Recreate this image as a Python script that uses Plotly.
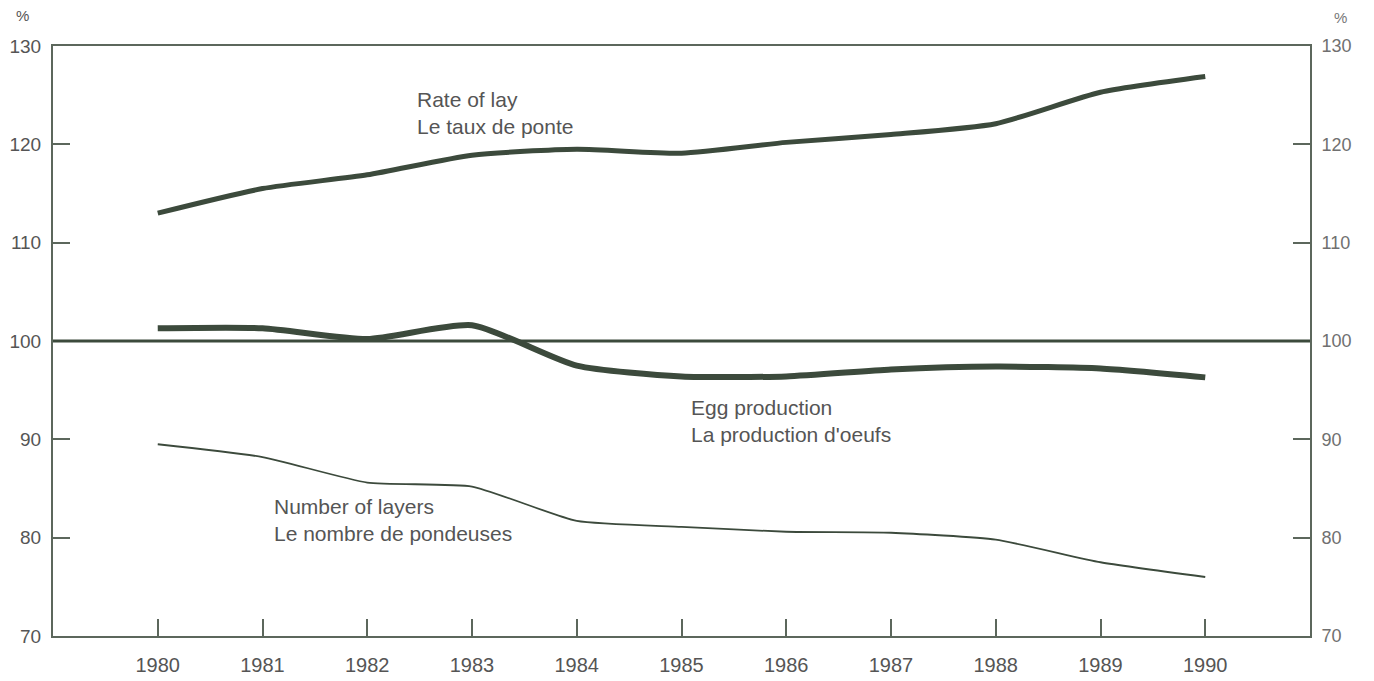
import plotly.graph_objects as go

years = [1980, 1981, 1982, 1983, 1984, 1985, 1986, 1987, 1988, 1989, 1990]
rate_of_lay = [113.0, 115.5, 116.9, 118.9, 119.5, 119.1, 120.2, 121.0, 122.1, 125.3, 126.9]
egg_production = [101.3, 101.3, 100.2, 101.6, 97.5, 96.4, 96.4, 97.1, 97.4, 97.2, 96.3]
number_of_layers = [89.5, 88.2, 85.6, 85.2, 81.7, 81.1, 80.6, 80.5, 79.8, 77.5, 76.0]
y_ticks = [70, 80, 90, 100, 110, 120, 130]
baseline = 100

line_col = "#3c4a3c"
axis_col = "#5c675c"
text_col = "#555555"
fam = "Liberation Sans, Arial, sans-serif"
font = dict(family=fam, size=21, color=text_col)

fig = go.Figure()
fig.add_trace(go.Scatter(x=years, y=rate_of_lay, mode="lines",
                         line=dict(color=line_col, width=5, shape="spline", smoothing=0.6),
                         hoverinfo="skip", showlegend=False))
fig.add_trace(go.Scatter(x=years, y=egg_production, mode="lines",
                         line=dict(color=line_col, width=6, shape="spline", smoothing=0.6),
                         hoverinfo="skip", showlegend=False))
fig.add_trace(go.Scatter(x=years, y=number_of_layers, mode="lines",
                         line=dict(color=line_col, width=1.8, shape="spline", smoothing=0.5),
                         hoverinfo="skip", showlegend=False))
fig.add_trace(go.Scatter(x=[years[0]], y=[baseline], yaxis="y2", mode="markers",
                         marker=dict(opacity=0), hoverinfo="skip", showlegend=False))

fig.add_shape(type="line", xref="paper", x0=0, x1=1, yref="y", y0=baseline, y1=baseline,
              line=dict(color=line_col, width=3))

fig.add_annotation(x=1982.46, y=123.2, xref="x", yref="y", text="Rate of lay<br>Le taux de ponte",
                   showarrow=False, xanchor="left", yanchor="middle", align="left", font=font)
fig.add_annotation(x=1985.07, y=91.9, xref="x", yref="y", text="Egg production<br>La production d'oeufs",
                   showarrow=False, xanchor="left", yanchor="middle", align="left", font=font)
fig.add_annotation(x=1981.09, y=81.8, xref="x", yref="y", text="Number of layers<br>Le nombre de pondeuses",
                   showarrow=False, xanchor="left", yanchor="middle", align="left", font=font)
fig.add_annotation(x=-0.0245, y=1.051, xref="paper", yref="paper", text="%", showarrow=False,
                   xanchor="center", yanchor="middle", font=dict(family=fam, size=15, color=text_col))
fig.add_annotation(x=1.024, y=1.048, xref="paper", yref="paper", text="%", showarrow=False,
                   xanchor="center", yanchor="middle", font=dict(family=fam, size=15, color="#777777"))

fig.update_layout(
    width=1374, height=681,
    margin=dict(l=45, r=72, t=38, b=53),
    paper_bgcolor="white", plot_bgcolor="white",
    font=font,
    xaxis=dict(range=[1979.0, 1991.0], tickvals=years, ticktext=[str(y) for y in years],
               ticks="inside", ticklen=17, tickwidth=2, tickcolor=axis_col,
               showline=True, linecolor=axis_col, linewidth=2, mirror=True,
               showgrid=False, zeroline=False, automargin=False, ticklabelstandoff=10,
               tickfont=dict(family=fam, size=20, color=text_col)),
    yaxis=dict(range=[70, 130], tickvals=y_ticks, ticks="inside", ticklen=17, tickwidth=2,
               tickcolor=axis_col, showline=True, linecolor=axis_col, linewidth=2,
               showgrid=False, zeroline=False, automargin=False, ticklabelstandoff=6,
               tickfont=dict(family=fam, size=19, color=text_col)),
    yaxis2=dict(range=[70, 130], tickvals=y_ticks, overlaying="y", side="right",
                ticks="inside", ticklen=17, tickwidth=2, tickcolor=axis_col,
                showline=True, linecolor=axis_col, linewidth=2,
                showgrid=False, zeroline=False, automargin=False, ticklabelstandoff=6,
                tickfont=dict(family=fam, size=18, color="#707070")),
)

fig.write_html("out.html")
